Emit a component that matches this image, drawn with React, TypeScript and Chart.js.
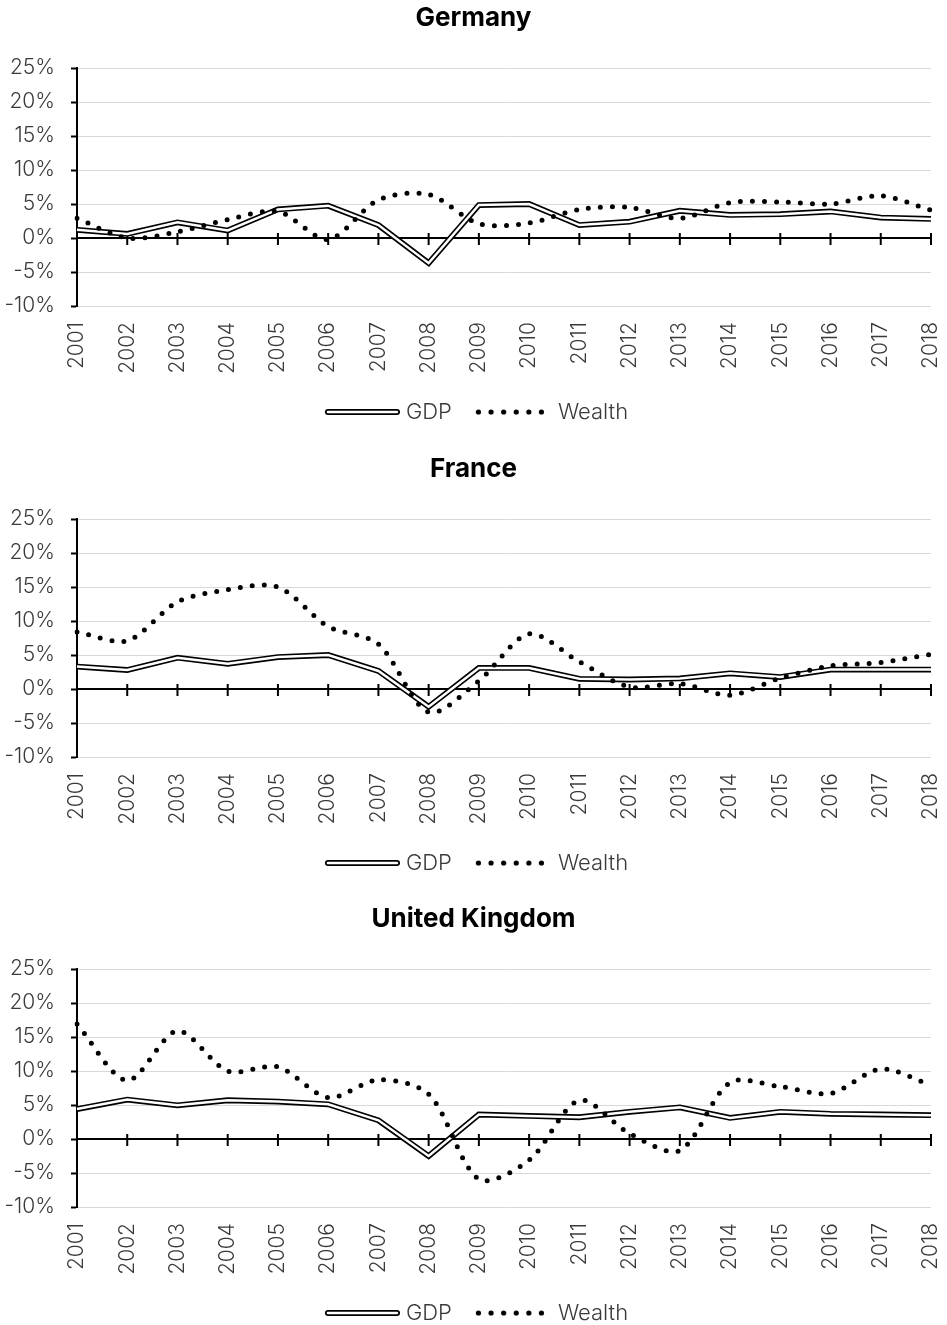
import React, { useEffect, useRef } from "react";
import { Chart, registerables } from "chart.js";

Chart.register(...registerables);

const years = ["2001", "2002", "2003", "2004", "2005", "2006", "2007", "2008", "2009", "2010", "2011", "2012", "2013", "2014", "2015", "2016", "2017", "2018"];

const germanyGdp = [1.2, 0.6, 2.3, 1.1, 4.2, 4.75, 1.9, -3.7, 4.85, 5.0, 1.9, 2.4, 4.0, 3.4, 3.5, 3.9, 3.0, 2.8];
const germanyWealth = [2.9, 0.0, 0.9, 2.7, 3.9, -0.2, 5.6, 6.4, 2.1, 2.2, 4.2, 4.5, 2.9, 5.2, 5.3, 5.0, 6.2, 4.1];

const franceGdp = [3.3, 2.8, 4.6, 3.7, 4.7, 5.0, 2.65, -2.6, 3.1, 3.1, 1.5, 1.4, 1.55, 2.3, 1.75, 2.85, 2.85, 2.85];
const franceWealth = [8.4, 7.1, 12.8, 14.6, 15.0, 9.2, 6.6, -3.4, 1.2, 8.1, 4.0, 0.3, 0.8, -0.9, 1.6, 3.4, 3.9, 5.1];

const ukGdp = [4.4, 5.8, 4.95, 5.7, 5.5, 5.1, 2.75, -2.5, 3.6, 3.4, 3.2, 4.0, 4.65, 3.1, 4.0, 3.7, 3.6, 3.5];
const ukWealth = [16.9, 8.6, 15.9, 10.0, 10.6, 6.1, 8.7, 6.6, -5.9, -3.1, 5.7, 0.8, -1.7, 8.3, 7.7, 6.7, 10.3, 7.9];

const yTicks = [-10, -5, 0, 5, 10, 15, 20, 25];

const FONT = "Inter, 'Noto Sans', 'DejaVu Sans', sans-serif";
const TEXT_COLOR = "#3a3a3a";

function makeGdpSymbol(): HTMLCanvasElement {
  const c = document.createElement("canvas");
  c.width = 86;
  c.height = 12;
  const ctx = c.getContext("2d")!;
  const x0 = 11 + 3;
  const x1 = 86 - 3;
  ctx.lineCap = "round";
  ctx.strokeStyle = "#000";
  ctx.lineWidth = 6;
  ctx.beginPath();
  ctx.moveTo(x0, 6);
  ctx.lineTo(x1, 6);
  ctx.stroke();
  ctx.strokeStyle = "#fff";
  ctx.lineWidth = 2.5;
  ctx.beginPath();
  ctx.moveTo(x0, 6);
  ctx.lineTo(x1, 6);
  ctx.stroke();
  return c;
}

function makeWealthSymbol(): HTMLCanvasElement {
  const c = document.createElement("canvas");
  c.width = 72;
  c.height = 12;
  const ctx = c.getContext("2d")!;
  ctx.fillStyle = "#000";
  for (let i = 0; i < 6; i++) {
    ctx.beginPath();
    ctx.arc(5.5 + i * 12.6, 6, 2.6, 0, Math.PI * 2);
    ctx.fill();
  }
  return c;
}

const zeroAxisPlugin = {
  id: "zeroAxis",
  beforeDatasetsDraw(chart: any) {
    const { ctx, chartArea } = chart;
    const x = chart.scales.x;
    const y = chart.scales.y;
    const y0 = y.getPixelForValue(0);
    ctx.save();
    ctx.strokeStyle = "#000";
    ctx.lineWidth = 2;
    ctx.beginPath();
    ctx.moveTo(chartArea.left, y0);
    ctx.lineTo(chartArea.right, y0);
    for (let i = 1; i < years.length; i++) {
      const px = x.getPixelForValue(i);
      ctx.moveTo(px, y0 - 5);
      ctx.lineTo(px, y0 + 7);
    }
    ctx.stroke();
    ctx.restore();
  },
};

function Panel({ title, gdp, wealth, height }: { title: string; gdp: number[]; wealth: number[]; height: number }) {
  const ref = useRef<HTMLCanvasElement | null>(null);
  useEffect(() => {
    const canvas = ref.current!;
    const gdpImg = makeGdpSymbol();
    const wealthImg = makeWealthSymbol();
    const chart = new Chart(canvas, {
      type: "line",
      data: {
        labels: years,
        datasets: [
          {
            label: "Wealth",
            data: wealth,
            borderColor: "#000",
            borderWidth: 5,
            borderDash: [0, 12],
            borderCapStyle: "round",
            tension: 0.3,
            pointRadius: 0,
            fill: false,
            order: 1,
          },
          {
            label: "GDP",
            data: gdp,
            borderColor: "#fff",
            borderWidth: 2.5,
            tension: 0,
            pointRadius: 0,
            fill: false,
            order: 2,
          },
          {
            label: "GDP outline",
            data: gdp,
            borderColor: "#000",
            borderWidth: 5.8,
            tension: 0,
            pointRadius: 0,
            fill: false,
            order: 3,
          },
        ],
      },
      options: {
        responsive: false,
        animation: false,
        devicePixelRatio: 1,
        layout: { padding: { left: 0, right: 0, top: 0, bottom: 18 } },
        plugins: {
          tooltip: { enabled: false },
          title: {
            display: true,
            text: title,
            color: "#000",
            font: { family: FONT, size: 26, weight: "bold" },
            padding: { top: 3, bottom: 33.8 },
          },
          legend: {
            display: true,
            position: "bottom",
            labels: {
              usePointStyle: true,
              pointStyleWidth: 76,
              padding: 19,
              color: TEXT_COLOR,
              font: { family: FONT, size: 22, weight: "300" },
              generateLabels: () => [
                { text: "GDP", pointStyle: gdpImg, fillStyle: "transparent", strokeStyle: "transparent", lineWidth: 0, hidden: false, datasetIndex: 1, fontColor: TEXT_COLOR } as any,
                { text: "Wealth", pointStyle: wealthImg, fillStyle: "transparent", strokeStyle: "transparent", lineWidth: 0, hidden: false, datasetIndex: 0, fontColor: TEXT_COLOR } as any,
              ],
            },
          },
        },
        scales: {
          x: {
            type: "category",
            offset: false,
            grid: { display: false, drawTicks: false },
            border: { display: false },
            ticks: {
              minRotation: 90,
              maxRotation: 90,
              autoSkip: false,
              padding: 16,
              color: TEXT_COLOR,
              font: { family: FONT, size: 21, weight: "300" },
            },
            afterFit: (scale: any) => {
              scale.height = 76;
              scale.paddingRight = 16;
              scale.paddingLeft = 0;
            },
          },
          y: {
            min: -10,
            max: 25,
            afterBuildTicks: (scale: any) => {
              scale.ticks = yTicks.map((v) => ({ value: v }));
            },
            grid: { color: "#d9d9d9", lineWidth: 1, tickColor: "#000", tickLength: 6, tickWidth: 2 },
            border: { display: true, color: "#000", width: 2 },
            ticks: {
              padding: 16,
              color: TEXT_COLOR,
              font: { family: FONT, size: 21, weight: "300" },
              callback: (v: any) => `${v}%`,
            },
            afterFit: (scale: any) => {
              scale.width = 77;
            },
          },
        },
      },
      plugins: [zeroAxisPlugin],
    } as any);
    return () => chart.destroy();
  }, [title, gdp, wealth]);
  return (
    <div style={{ width: 947, height, overflow: "hidden" }}>
      <canvas ref={ref} width={947} height={451} style={{ display: "block" }} />
    </div>
  );
}

export default function App() {
  return (
    <div style={{ position: "absolute", left: 0, top: 0, width: 947, height: 1325, overflow: "hidden", background: "#fff" }}>
      <Panel title="Germany" gdp={germanyGdp} wealth={germanyWealth} height={451} />
      <Panel title="France" gdp={franceGdp} wealth={franceWealth} height={450} />
      <Panel title="United Kingdom" gdp={ukGdp} wealth={ukWealth} height={424} />
    </div>
  );
}
